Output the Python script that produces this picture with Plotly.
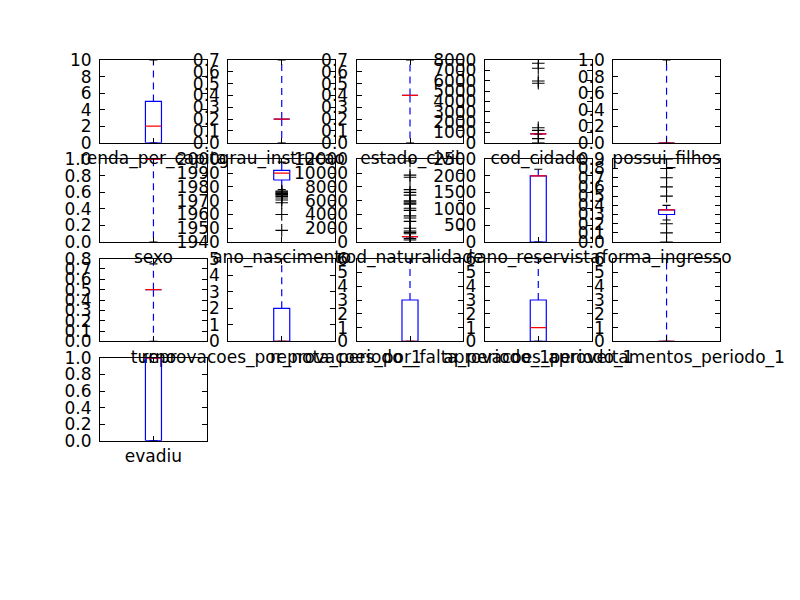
import numpy as np
import plotly.graph_objects as go

names = ["renda_per_capita", "grau_instrucao", "estado_civil", "cod_cidade", "possui_filhos",
         "sexo", "ano_nascimento", "cod_naturalidade", "ano_reservista", "forma_ingresso",
         "turno", "reprovacoes_por_nota_periodo_1", "reprovacoes_por_falta_periodo_1",
         "aprovacoes_periodo_1", "aproveitamentos_periodo_1", "evadiu"]
q1 =     [0, 0.2, 0.4, 850, 0, 1, 1985, 800, 0,    0.30, 0.5, 0, 0, 0, 0, 0]
median = [2, 0.2, 0.4, 850, 0, 1, 1990, 800, 2000, 0.35, 0.5, 0, 0, 1, 0, 1]
q3 =     [5, 0.2, 0.4, 850, 0, 1, 1992, 800, 2000, 0.35, 0.5, 2, 3, 3, 0, 1]
lower =  [0, 0.0, 0.0, 850, 0, 0, 1978, 800, 0,    0.24, 0.0, 0, 0, 0, 0, 0]
upper =  [10, 0.7, 0.7, 850, 1, 1, 1998, 800, 2200, 0.40, 0.75, 5, 6, 6, 6, 1]
fliers = [
    [], [], [],
    [0, 400, 1200, 1450, 5750, 5970, 7200, 7680],
    [], [],
    [1977, 1976.4, 1975.8, 1975.2, 1974.6, 1974, 1973, 1972, 1970.5, 1968.5, 1960, 1948.5],
    [11750, 9700, 9400, 7600, 7200, 6800, 6000, 5850, 5650, 5500, 4900, 4600, 3800, 3500,
     3000, 2000, 1600, 1400, 1200, 500, 300],
    [],
    [0.0, 0.1, 0.2, 0.5, 0.6, 0.7, 0.8, 0.9],
    [], [], [], [], [], [],
]
ylims = [(0, 10), (0, 0.7), (0, 0.7), (0, 8000), (0, 1.0),
         (0, 1.0), (1940, 2000), (0, 12000), (0, 2500), (0, 0.9),
         (0, 0.8), (0, 5), (0, 6), (0, 6), (0, 6), (0, 1.0)]
ysteps = [2, 0.1, 0.1, 1000, 0.2, 0.2, 10, 2000, 500, 0.1, 0.1, 1, 1, 1, 1, 0.2]

W, H = 800, 600
left, right, top, bottom = 100, 720, 60, 540
ncol, nrow = 5, 5
cw = (right - left) / (ncol + (ncol - 1) * 0.2)
rh = (bottom - top) / (nrow + (nrow - 1) * 0.2)

fig = go.Figure()
font = dict(family="DejaVu Sans", size=17, color="black")
pos = 1.0
bw = 0.15
cap = bw / 2

for i, name in enumerate(names):
    r, c = divmod(i, ncol)
    k = "" if i == 0 else str(i + 1)
    xa, ya = "x" + k, "y" + k
    x0 = left + c * cw * 1.2
    y0 = top + r * rh * 1.2
    line_kw = dict(xaxis=xa, yaxis=ya, mode="lines", showlegend=False, hoverinfo="skip")
    # whiskers
    fig.add_trace(go.Scatter(x=[pos, pos], y=[q3[i], upper[i]],
                             line=dict(color="blue", width=1.2, dash="7px,5px"), **line_kw))
    fig.add_trace(go.Scatter(x=[pos, pos], y=[q1[i], lower[i]],
                             line=dict(color="blue", width=1.2, dash="7px,5px"), **line_kw))
    # caps
    for v in (upper[i], lower[i]):
        fig.add_trace(go.Scatter(x=[pos - cap / 2, pos + cap / 2], y=[v, v],
                                 line=dict(color="black", width=1.2), **line_kw))
    # box
    fig.add_trace(go.Scatter(x=[pos - bw / 2, pos + bw / 2, pos + bw / 2, pos - bw / 2, pos - bw / 2],
                             y=[q1[i], q1[i], q3[i], q3[i], q1[i]],
                             line=dict(color="blue", width=1.2), **line_kw))
    # median
    fig.add_trace(go.Scatter(x=[pos - bw / 2, pos + bw / 2], y=[median[i], median[i]],
                             line=dict(color="red", width=1.2), **line_kw))
    # fliers
    if fliers[i]:
        fig.add_trace(go.Scatter(x=[pos] * len(fliers[i]), y=fliers[i], xaxis=xa, yaxis=ya,
                                 mode="markers", showlegend=False, hoverinfo="skip",
                                 marker=dict(symbol="cross-thin", size=9,
                                             line=dict(color="black", width=1.1))))
    lo, hi = ylims[i]
    step = ysteps[i]
    tv = np.round(np.arange(lo, hi + step / 2, step), 6)
    if step < 1:
        tt = ["%.1f" % v for v in tv]
    else:
        tt = ["%d" % v for v in tv]
    axcommon = dict(showline=True, linecolor="black", linewidth=1, mirror="ticks",
                    ticks="inside", ticklen=5, tickwidth=1, tickcolor="black",
                    showgrid=False, zeroline=False, tickfont=font, automargin=False)
    fig.layout[("xaxis" + k)] = dict(domain=[x0 / W, (x0 + cw) / W], anchor=ya,
                                     range=[0.5, 1.5], tickvals=[pos], ticktext=[name],
                                     ticklabelstandoff=0, **axcommon)
    fig.layout[("yaxis" + k)] = dict(domain=[1 - (y0 + rh) / H, 1 - y0 / H], anchor=xa,
                                     range=[lo, hi], tickvals=list(tv), ticktext=tt,
                                     ticklabelstandoff=4, **axcommon)

fig.update_layout(width=W, height=H, margin=dict(l=0, r=0, t=0, b=0, autoexpand=False),
                  paper_bgcolor="white", plot_bgcolor="white", font=font)
fig.write_html("out.html")
